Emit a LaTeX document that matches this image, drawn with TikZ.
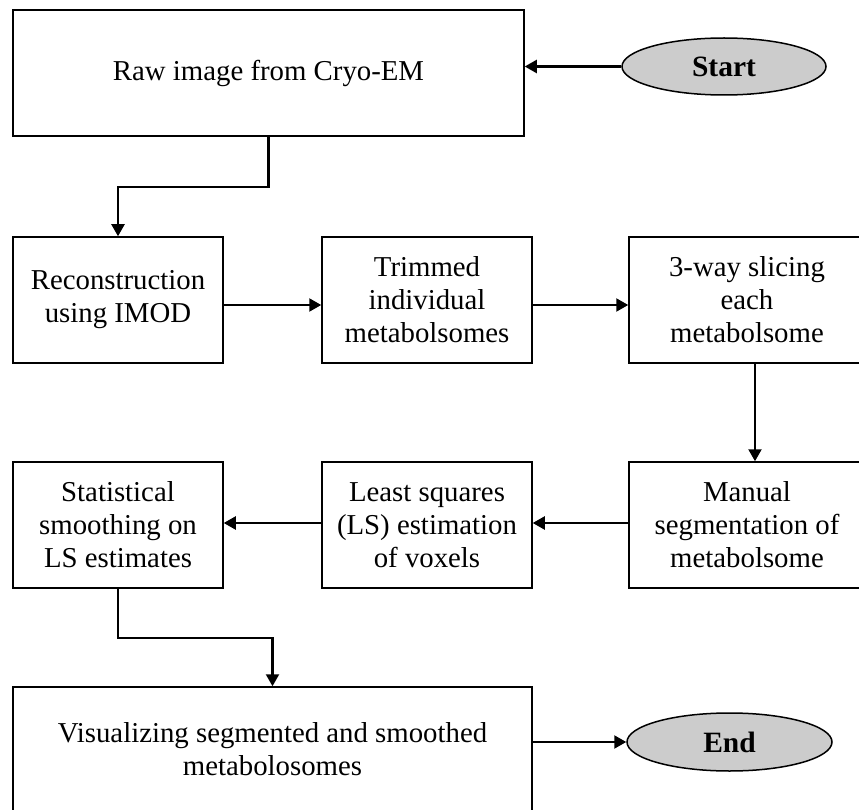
\documentclass[tikz,border=0pt]{standalone}
\usepackage{fontspec}
\setmainfont{Liberation Serif}
\usetikzlibrary{shapes.geometric,arrows.meta}
\begin{document}
\begin{tikzpicture}[x=1pt,y=-1pt,
  box/.style={draw, line width=1.5pt, rectangle, inner sep=0pt, align=center,
    font=\fontsize{28.8}{33}\selectfont},
  term/.style={draw, ellipse, fill=black!20, line width=1.5pt, inner sep=0pt,
    font=\fontsize{29.5}{33}\selectfont\bfseries},
  link/.style={line width=2.2pt, -{Triangle[length=12pt,width=13pt]}}]
\useasboundingbox (0,0) rectangle (859,810);
\clip (0,0) rectangle (859,810);

% process boxes
\node[box, minimum width=511, minimum height=126] (raw) at (268.5,73) {Raw image from Cryo-EM};
\node[box, minimum width=210, minimum height=126] (rec) at (118,300) {Reconstruction\\using IMOD};
\node[box, minimum width=210, minimum height=126] (trim) at (427,300) {Trimmed\\individual\\metabolsomes};
\node[box, minimum width=236, minimum height=126] (slice) at (747,300) {3-way slicing\\each\\metabolsome};
\node[box, minimum width=236, minimum height=126] (man) at (747,525) {Manual\\segmentation of\\metabolsome};
\node[box, minimum width=210, minimum height=126] (ls) at (427,525) {Least squares\\(LS) estimation\\of voxels};
\node[box, minimum width=210, minimum height=126] (stat) at (118,525) {Statistical\\smoothing on\\LS estimates};
\node[box, minimum width=519, minimum height=124] (vis) at (272.5,749) {Visualizing segmented and smoothed\\metabolosomes};

% terminals
\node[term, minimum width=204, minimum height=57] (start) at (724,66.5) {Start};
\node[term, minimum width=205, minimum height=58] (end) at (729.5,742) {End};

% connectors
\draw[link] (start.west) -- (raw.east |- start.west);
\draw[link] (raw.south) -- ++(0,50) -| (rec.north);
\draw[link] ([yshift=-5pt]rec.east) -- ([yshift=-5pt]trim.west);
\draw[link] ([yshift=-5pt]trim.east) -- ([yshift=-5pt]slice.west);
\draw[link] ([xshift=8pt]slice.south) -- ([xshift=8pt]man.north);
\draw[link] ([yshift=2pt]man.west) -- ([yshift=2pt]ls.east);
\draw[link] ([yshift=2pt]ls.west) -- ([yshift=2pt]stat.east);
\draw[link] (stat.south) -- ++(0,49) -| (vis.north);
\draw[link] (vis.east |- end.west) -- (end.west);
\end{tikzpicture}
\end{document}
